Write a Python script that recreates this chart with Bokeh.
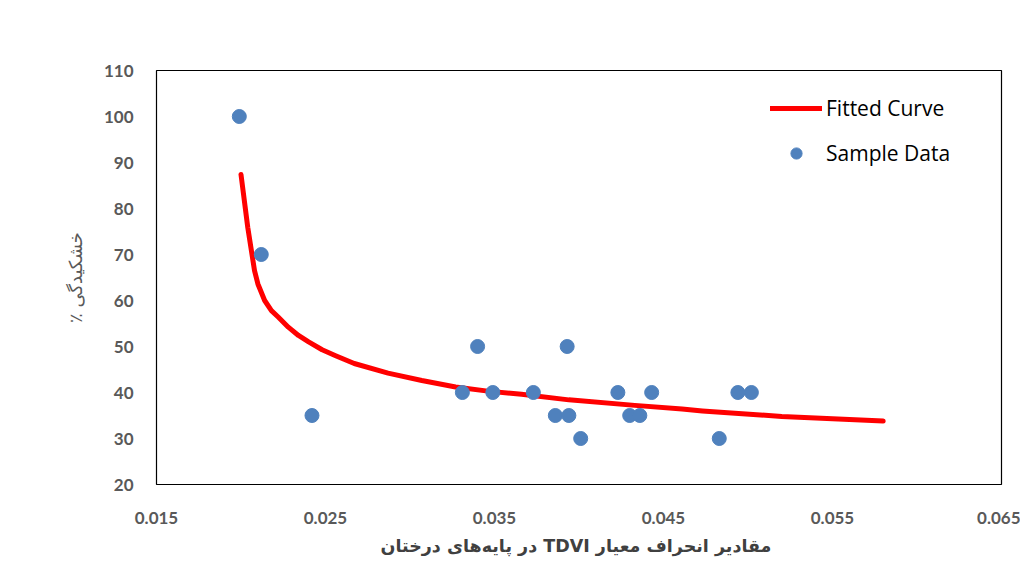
from bokeh.plotting import figure
from bokeh.models import FixedTicker, Range1d, Legend, LegendItem
from bokeh.embed import file_html
from bokeh.resources import INLINE

# Sample data
sample_x = [0.0199, 0.0212, 0.0242, 0.0331, 0.0340, 0.0349, 0.0373, 0.0386, 0.0393, 0.0394,
            0.0401, 0.0423, 0.0430, 0.0436, 0.0443, 0.0483, 0.0494, 0.0502]
sample_y = [100, 70, 35, 40, 50, 40, 40, 35, 50, 35,
            30, 40, 35, 35, 40, 30, 40, 40]

# Fitted curve
curve_x = [0.0200, 0.0204, 0.0208, 0.0210, 0.0214, 0.0218, 0.0222, 0.0228, 0.0234, 0.0240,
           0.0248, 0.0256, 0.0267, 0.0287, 0.0307, 0.0327, 0.0346, 0.0366, 0.0394, 0.0433,
           0.0461, 0.0473, 0.0520, 0.0580]
curve_y = [87.4, 75.9, 66.5, 63.6, 60.0, 57.8, 56.4, 54.2, 52.4, 51.0,
           49.3, 48.0, 46.3, 44.2, 42.6, 41.2, 40.3, 39.6, 38.4, 37.2,
           36.4, 36.0, 34.8, 33.8]

x_ticks = [0.015, 0.025, 0.035, 0.045, 0.055, 0.065]
y_ticks = [20, 30, 40, 50, 60, 70, 80, 90, 100, 110]

x_title = "\u202bمقادیر انحراف معیار TDVI  در پایه‌های درختان\u202c"
y_title = "\u202bخشکیدگی ٪\u202c"
legend_labels = ["Fitted Curve", "Sample Data"]

p = figure(width=1020, height=559, output_backend="svg", toolbar_location=None,
           x_range=Range1d(0.015, 0.065), y_range=Range1d(20, 110),
           min_border_left=156, min_border_right=19, min_border_top=70, min_border_bottom=75)

p.xgrid.visible = False
p.ygrid.visible = False
p.outline_line_color = "black"
p.outline_line_width = 1.2
p.background_fill_color = "white"
p.border_fill_color = "white"

line_r = p.line(curve_x, curve_y, line_color="#ff0000", line_width=5, line_join="round", line_cap="round")
pts_r = p.scatter(sample_x, sample_y, size=14, fill_color="#4f81bd", line_color="#4f81bd")

tick_color = "#595959"
for ax in (p.xaxis[0], p.yaxis[0]):
    ax.axis_line_color = None
    ax.major_tick_line_color = None
    ax.minor_tick_line_color = None
    ax.major_label_text_font = "Lato"
    ax.major_label_text_font_style = "bold"
    ax.major_label_text_font_size = "17px"
    ax.major_label_text_color = tick_color

p.xaxis[0].ticker = FixedTicker(ticks=x_ticks)
p.yaxis[0].ticker = FixedTicker(ticks=y_ticks)
p.xaxis[0].major_label_overrides = {t: f"{t:.3f}" for t in x_ticks}
p.xaxis[0].major_label_standoff = 21
p.yaxis[0].major_label_standoff = 17

p.xaxis[0].axis_label = x_title
p.xaxis[0].axis_label_text_font = "DejaVu Sans"
p.xaxis[0].axis_label_text_font_style = "bold"
p.xaxis[0].axis_label_text_font_size = "17.5px"
p.xaxis[0].axis_label_text_color = "#404040"
p.xaxis[0].axis_label_standoff = 9

p.yaxis[0].axis_label = y_title
p.yaxis[0].axis_label_text_font = "DejaVu Sans"
p.yaxis[0].axis_label_text_font_style = "normal"
p.yaxis[0].axis_label_text_font_size = "18px"
p.yaxis[0].axis_label_text_color = "#595959"
p.yaxis[0].axis_label_standoff = 15

legend = Legend(items=[LegendItem(label=legend_labels[0], renderers=[line_r]),
                       LegendItem(label=legend_labels[1], renderers=[pts_r])],
                location=(614, 317), orientation="vertical")
legend.glyph_width = 52
legend.glyph_height = 28
legend.label_height = 28
legend.spacing = 17
legend.padding = 0
legend.margin = 0
legend.label_standoff = 4
legend.border_line_color = None
legend.background_fill_alpha = 0
legend.label_text_font = "Open Sans"
legend.label_text_font_size = "21px"
legend.label_text_color = "#000000"
p.add_layout(legend, "center")

open("out.html", "w").write(file_html(p, INLINE))
